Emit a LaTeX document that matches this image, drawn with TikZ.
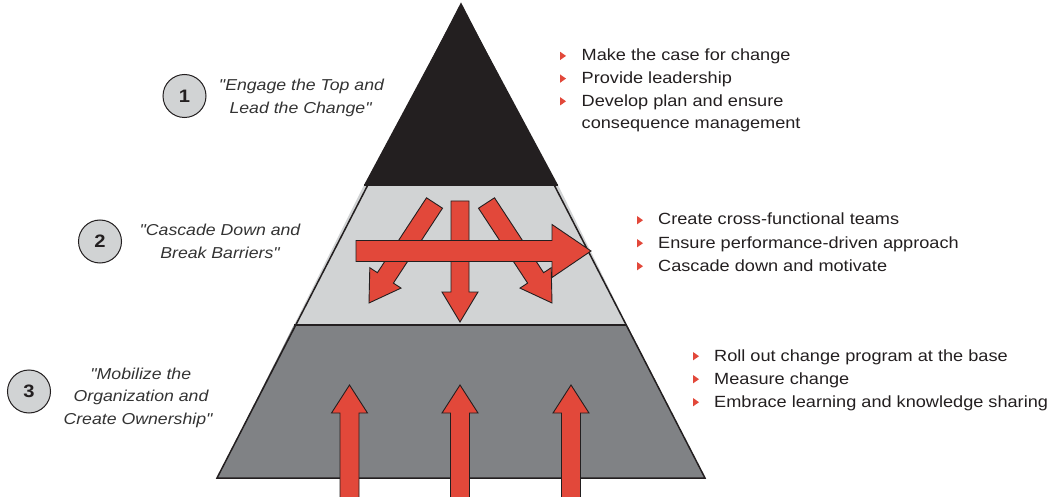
\documentclass[tikz,border=0pt]{standalone}
\usepackage{fontspec}
\setmainfont{Liberation Sans}[FakeStretch=1.12, Ligatures=TeXOff]
\definecolor{pblack}{HTML}{231F20}
\definecolor{plight}{HTML}{D1D3D4}
\definecolor{pdark}{HTML}{808285}
\definecolor{pred}{HTML}{E2483A}
\definecolor{ptext}{HTML}{231F20}
\definecolor{pquote}{HTML}{333333}
\tikzset{
  redarrow/.style={fill=pred, draw=pblack, line width=0.9pt, line join=miter},
  bodytxt/.style={anchor=base west, inner sep=0pt, text=ptext, font=\fontsize{16.2}{22.7}\selectfont},
  quotetxt/.style={anchor=base, inner sep=0pt, text=pquote, font=\fontsize{15.8}{22.5}\selectfont\itshape},
  numcircle/.style={circle, fill=plight, draw=pblack, line width=1pt, minimum size=43pt, inner sep=0pt, text=pblack, font=\fontsize{18}{18}\selectfont\bfseries},
  bulletmk/.style={fill=pred}
}
\newcommand\bulmk[2]{\fill[bulletmk] (#1,#2-9) -- (#1+6,#2-4.8) -- (#1,#2-0.6) -- cycle;}
\begin{document}
\begin{tikzpicture}[x=1pt,y=-1pt]
\useasboundingbox (0,0) rectangle (1049,497);
% pyramid sections
\fill[pblack] (461,4) -- (558,185) -- (364,185) -- cycle;
\fill[plight] (364,185) -- (558,185) -- (627,325) -- (294,325) -- cycle;
\fill[pdark] (294,325) -- (627,325) -- (705,478) -- (217,478) -- cycle;
\draw[pblack, line width=1.5pt] (364,185) -- (558,185);
\draw[pblack, line width=1.5pt] (294,325) -- (627,325);
\draw[pblack, line width=1.5pt, line join=miter] (461,4) -- (705,478) -- (217,478) -- cycle;

% middle section arrows
\draw[redarrow] (442.5,208.2) -- (426.5,197.8) -- (377.4,272.7) -- (369.8,267.7) -- (369,303) -- (401.0,288.1) -- (393.4,283.1) -- cycle;
\draw[redarrow] (478.5,208.2) -- (494.5,197.8) -- (543.6,272.7) -- (551.2,267.7) -- (552,303) -- (520,288.1) -- (527.6,283.1) -- cycle;
\draw[redarrow] (451,201) -- (469,201) -- (469,292) -- (478,292) -- (460,322) -- (442,292) -- (451,292) -- cycle;
\draw[redarrow] (356,240.5) -- (552,240.5) -- (552,224.5) -- (591,251) -- (552,277.5) -- (552,261.5) -- (356,261.5) -- cycle;

% bottom arrows
\foreach \cx in {349.5,460,571}{
  \fill[pred] (\cx-9.5,500) -- (\cx-9.5,413) -- (\cx-18,413) -- (\cx,385) -- (\cx+18,413) -- (\cx+9.5,413) -- (\cx+9.5,500) -- cycle;
  \draw[pblack, line width=0.9pt, line join=miter] (\cx-9.5,500) -- (\cx-9.5,413) -- (\cx-18,413) -- (\cx,385) -- (\cx+18,413) -- (\cx+9.5,413) -- (\cx+9.5,500);
}

% number circles
\node[numcircle] (c1) at (184.5,96) {1};
\node[numcircle] (c2) at (100,241.5) {2};
\node[numcircle] (c3) at (29,391.5) {3};

% quotes
\node[quotetxt] (q1a) at (301.5,91) {"Engage the Top and};
\node[quotetxt] (q1b) at (300.6,113.3) {Lead the Change"};
\node[quotetxt] (q2a) at (220,235) {"Cascade Down and};
\node[quotetxt] (q2b) at (220,258) {Break Barriers"};
\node[quotetxt] (q3a) at (140.8,379) {"Mobilize the};
\node[quotetxt] (q3b) at (141,401.5) {Organization and};
\node[quotetxt] (q3c) at (138,424) {Create Ownership"};

% bullets block 1
\bulmk{560}{60.7}
\bulmk{560}{83.4}
\bulmk{560}{106.1}
\node[bodytxt] (t1a) at (581.5,60.7) {Make the case for change};
\node[bodytxt] (t1b) at (581.5,83.4) {Provide leadership};
\node[bodytxt] (t1c) at (581.5,106.1) {Develop plan and ensure};
\node[bodytxt] (t1d) at (581.5,128.8) {consequence management};

% bullets block 2
\bulmk{637}{225}
\bulmk{637}{248}
\bulmk{637}{271}
\node[bodytxt] (t2a) at (658,225) {Create cross-functional teams};
\node[bodytxt] (t2b) at (658,248) {Ensure performance-driven approach};
\node[bodytxt] (t2c) at (658,271) {Cascade down and motivate};

% bullets block 3
\bulmk{693}{361}
\bulmk{693}{384}
\bulmk{693}{407}
\node[bodytxt] (t3a) at (714,361) {Roll out change program at the base};
\node[bodytxt] (t3b) at (714,384) {Measure change};
\node[bodytxt] (t3c) at (714,407) {Embrace learning and knowledge sharing};
\end{tikzpicture}
\end{document}
